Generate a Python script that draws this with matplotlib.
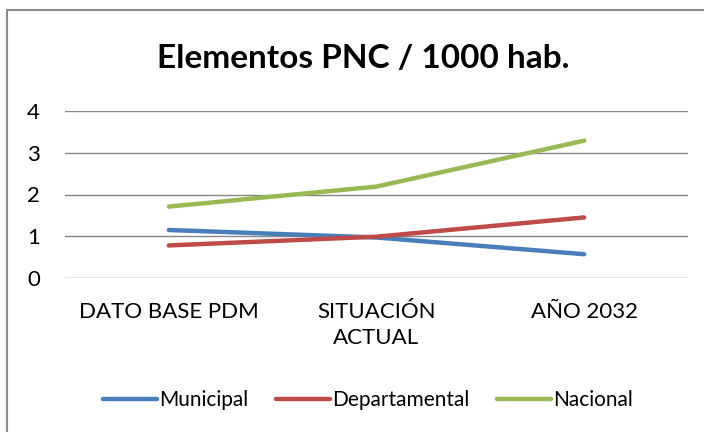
import matplotlib.pyplot as plt
from matplotlib.patches import Rectangle

categories = ['DATO BASE PDM', 'SITUACIÓN\nACTUAL', 'AÑO 2032']
municipal = [1.15, 0.97, 0.57]
departamental = [0.78, 0.99, 1.45]
nacional = [1.71, 2.19, 3.29]

plt.rcParams['font.family'] = ['Lato', 'DejaVu Sans']

fig = plt.figure(figsize=(7.04, 4.32), dpi=100)
ax = fig.add_axes([65 / 704, 1 - 278 / 432, 623 / 704, 167 / 432])

x = range(len(categories))
ax.plot(x, municipal, color='#4A7EBB', lw=3.2, label='Municipal', solid_capstyle='round')
ax.plot(x, departamental, color='#BE4B48', lw=3.2, label='Departamental', solid_capstyle='round')
ax.plot(x, nacional, color='#98B954', lw=3.2, label='Nacional', solid_capstyle='round')

ax.set_xlim(-0.5, 2.5)
ax.set_ylim(0, 4)
ax.set_yticks([0, 1, 2, 3, 4])
ax.set_xticks(list(x))
ax.set_xticklabels(categories, fontsize=16, linespacing=1.4)
ax.tick_params(axis='y', labelsize=16, length=0, pad=18)
ax.tick_params(axis='x', length=0, pad=17)
ax.grid(axis='y', color='#868686', lw=1)
ax.set_axisbelow(True)
for s in ax.spines.values():
    s.set_visible(False)

fig.text(363 / 704, 1 - 58 / 432, 'Elementos PNC / 1000 hab.', fontsize=24,
         fontweight='bold', ha='center', va='center')

fig.legend(loc='center', bbox_to_anchor=(368 / 704, 1 - 400 / 432), ncol=3,
           frameon=False, fontsize=15, handlelength=2.6, handletextpad=0.1,
           columnspacing=1.3)

# outer chart frame (cut off on the right and bottom in the original)
fig.patches.append(Rectangle((7 / 704, -0.1), 1.2, 1 - 10 / 432 + 0.1,
                             transform=fig.transFigure, fill=False,
                             edgecolor='#8c8c8c', lw=1.5))

fig.savefig('out.png', dpi=100)
